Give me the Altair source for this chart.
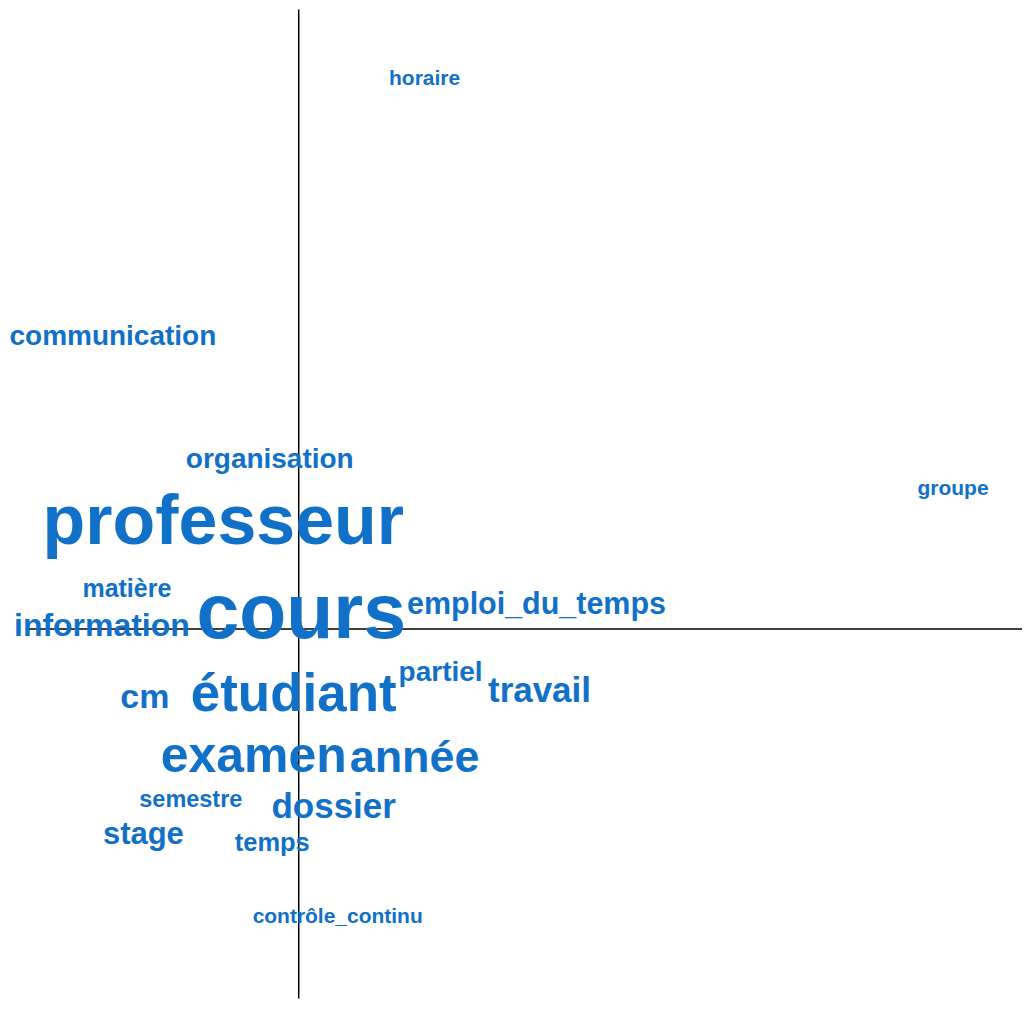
import altair as alt
import pandas as pd

words = ["horaire", "communication", "organisation", "groupe", "professeur",
         "matière", "information", "cours", "emploi_du_temps", "étudiant",
         "cm", "partiel", "travail", "examen", "année", "semestre",
         "dossier", "stage", "temps", "contrôle_continu"]
dim1 = [0.63, -0.93, -0.145, 3.275, -0.3775,
        -0.86, -0.985, 0.0125, 1.19, -0.025,
        -0.77, 0.71, 1.205, -0.225, 0.58, -0.54,
        0.175, -0.7775, -0.1325, 0.195]
dim2 = [2.72, 1.42, 0.805, 0.67, 0.425,
        0.16, -0.035, -0.045, 0.075, -0.41,
        -0.395, -0.26, -0.365, -0.715, -0.715, -0.89,
        -0.945, -1.075, -1.11, -1.47]
weight = [21, 28, 28, 21, 70,
          25, 32, 77, 30.5, 53,
          34, 28, 35, 50, 45, 23.5,
          35, 31, 25.5, 21]

XMIN, XMAX = -1.455, 3.62
YMIN, YMAX = -1.85, 3.1

df = pd.DataFrame({"word": words, "d1": dim1, "d2": dim2, "w": weight})

xs = alt.Scale(domain=[XMIN, XMAX], nice=False, zero=False)
ys = alt.Scale(domain=[YMIN, YMAX], nice=False, zero=False)

vline = alt.Chart(pd.DataFrame({"x": [0.0], "y": [YMIN], "y2": [YMAX]})).mark_rule(
    color="black", strokeWidth=1.5).encode(
    x=alt.X("x:Q", scale=xs, axis=None),
    y=alt.Y("y:Q", scale=ys, axis=None),
    y2="y2:Q")

hline = alt.Chart(pd.DataFrame({"y": [0.0], "x": [-1.355], "x2": [XMAX]})).mark_rule(
    color="black", strokeWidth=1.5).encode(
    y=alt.Y("y:Q", scale=ys, axis=None),
    x=alt.X("x:Q", scale=xs, axis=None),
    x2="x2:Q")

text = alt.Chart(df).mark_text(
    font="Liberation Sans", fontWeight="bold", align="center",
    baseline="alphabetic", color="#1170c8").encode(
    x=alt.X("d1:Q", scale=xs, axis=None),
    y=alt.Y("d2:Q", scale=ys, axis=None),
    text="word:N",
    size=alt.Size("w:Q", scale=None, legend=None))

chart = (vline + hline + text).properties(
    width=1015, height=990, padding=0
).configure_view(stroke=None)

chart.save("out.html", embed_options={"renderer": "svg", "actions": False})
